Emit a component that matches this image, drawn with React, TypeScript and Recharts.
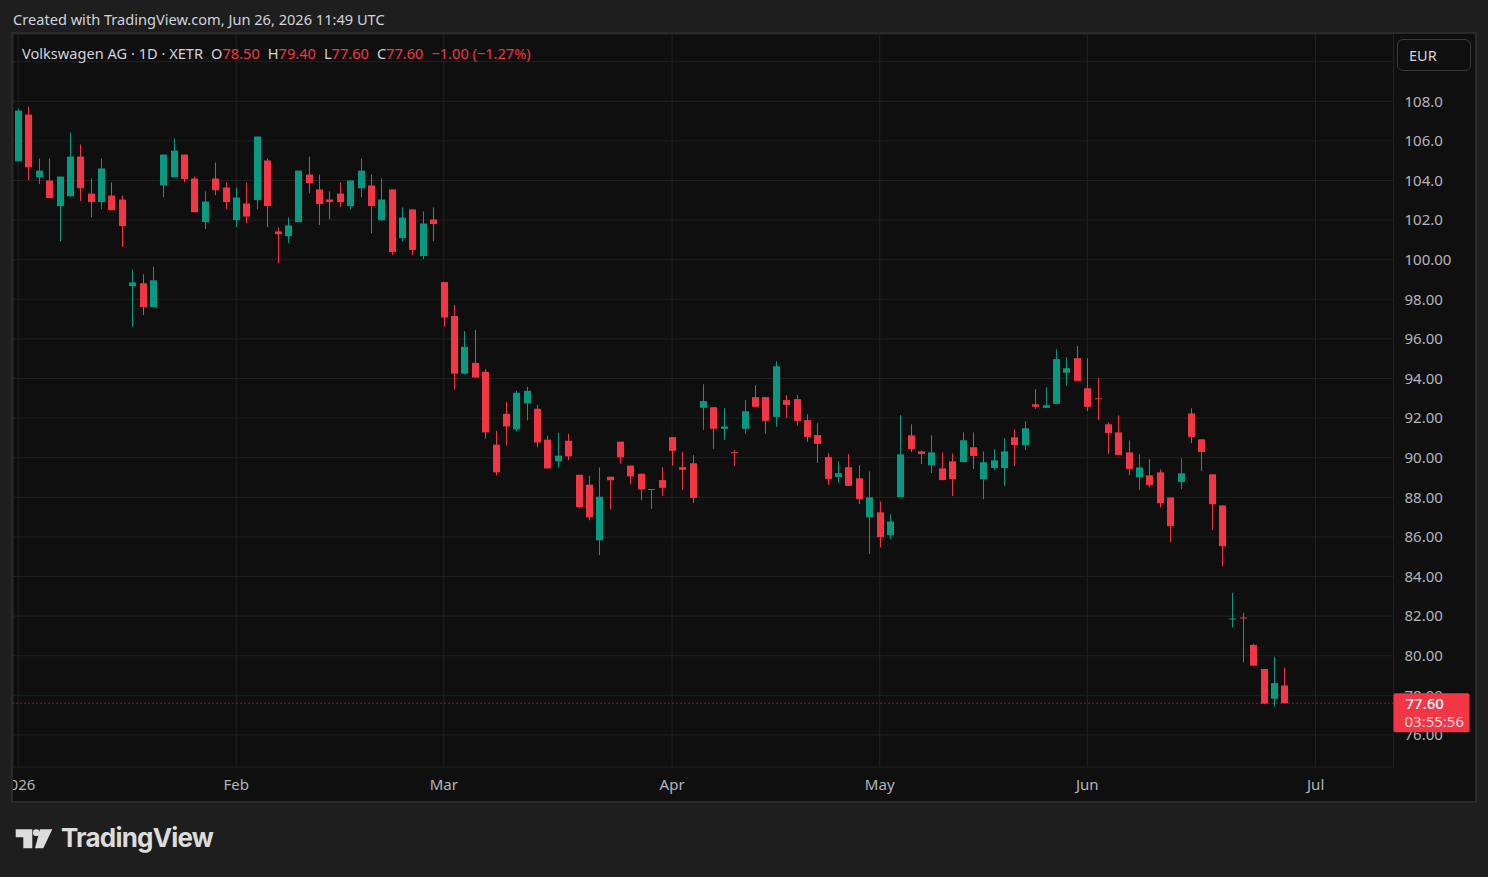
import React from "react";
import {
	Bar,
	CartesianGrid,
	ComposedChart,
	ReferenceLine,
	XAxis,
	YAxis,
} from "recharts";

const UP = "#089981";
const DOWN = "#f23645";
const TEXT = "#d1d4dc";
const AXIS_TEXT = "#b2b5be";
const FONT = "'Noto Sans', Roboto, sans-serif";

// XETR trading days, Jan - Jun 2026
const janDays = [2, 5, 6, 7, 8, 9, 12, 13, 14, 15, 16, 19, 20, 21, 22, 23, 26, 27, 28, 29, 30];
const febDays = [2, 3, 4, 5, 6, 9, 10, 11, 12, 13, 16, 17, 18, 19, 20, 23, 24, 25, 26, 27];
const marDays = [2, 3, 4, 5, 6, 9, 10, 11, 12, 13, 16, 17, 18, 19, 20, 23, 24, 25, 26, 27, 30, 31];
const aprDays = [1, 2, 7, 8, 9, 10, 13, 14, 15, 16, 17, 20, 21, 22, 23, 24, 27, 28, 29, 30];
const mayDays = [4, 5, 6, 7, 8, 11, 12, 13, 14, 15, 18, 19, 20, 21, 22, 25, 26, 27, 28, 29];
const junDays = [1, 2, 3, 4, 5, 8, 9, 10, 11, 12, 15, 16, 17, 18, 19, 22, 23, 24, 25, 26];
// empty slots to the right of the last bar
const futureDates = [
	"2026-06-29", "2026-06-30", "2026-07-01", "2026-07-02", "2026-07-03",
	"2026-07-06", "2026-07-07", "2026-07-08", "2026-07-09", "2026-07-10",
];

const opens = [
	// jan
	104.97, 107.33, 104.17, 104.0, 102.71, 103.21, 105.21, 103.34, 102.91, 103.24, 103.04,
	98.67, 98.81, 97.61, 103.76, 104.17, 105.31, 104.1, 101.9, 104.1, 103.65,
	// feb
	102.0, 102.84, 103.01, 105.01, 101.43, 101.19, 101.9, 104.3, 103.55, 103.04,
	103.34, 102.71, 103.61, 103.75, 102.0, 103.55, 101.09, 102.54, 100.18, 102.03,
	// mar
	98.87, 97.16, 94.25, 94.79, 94.34, 90.66, 92.22, 91.43, 92.74, 92.47, 90.91,
	89.82, 90.86, 89.14, 88.64, 85.83, 89.04, 90.81, 89.6, 89.19, 88.38, 88.87,
	// apr
	91.04, 89.52, 89.72, 92.52, 92.55, 91.46, 90.28, 91.46, 93.06, 93.06,
	92.06, 92.91, 92.96, 91.9, 91.14, 90.03, 89.03, 89.52, 88.96, 87.0,
	// may
	87.24, 86.09, 88.01, 91.13, 90.32, 89.63, 89.46, 89.82, 89.78, 90.53,
	88.92, 89.48, 89.48, 91.03, 90.64, 92.7, 92.52, 92.72, 94.29, 95.03,
	// jun
	93.51, 93.0, 91.69, 91.28, 90.27, 89.02, 89.11, 89.26, 87.99, 88.77,
	92.24, 90.93, 89.16, 87.59, 81.85, 81.93, 80.55, 79.33, 77.83, 78.5,
];
const highs = [
	107.63, 107.73, 105.11, 105.11, 104.2, 106.42, 105.82, 104.1, 105.11, 103.9, 103.24,
	99.51, 99.26, 99.66, 105.31, 106.12, 105.31, 104.2, 103.45, 104.91, 103.9,
	103.65, 103.9, 106.22, 105.11, 101.63, 102.13, 104.5, 105.21, 104.3, 103.45,
	103.9, 104.0, 105.11, 104.3, 104.1, 103.55, 102.64, 102.54, 102.44, 102.64,
	98.87, 97.71, 96.4, 96.45, 94.49, 91.36, 92.82, 93.38, 93.58, 92.67, 91.11,
	91.26, 91.21, 89.14, 89.09, 89.5, 89.04, 90.81, 89.6, 89.19, 88.42, 89.52,
	91.04, 90.28, 90.13, 93.71, 92.55, 92.5, 90.38, 92.91, 93.66, 93.06,
	94.88, 93.16, 93.16, 92.2, 91.74, 90.23, 89.82, 90.18, 89.62, 89.31,
	87.79, 87.14, 92.15, 91.69, 90.37, 91.13, 90.27, 90.22, 91.28, 91.28,
	90.32, 90.42, 90.98, 91.44, 91.84, 93.46, 93.56, 95.48, 95.08, 95.64,
	95.03, 94.02, 91.79, 92.14, 90.88, 90.17, 89.92, 89.41, 87.99, 89.97,
	92.5, 90.93, 89.16, 87.59, 83.18, 82.17, 80.6, 79.33, 79.94, 79.4,
];
const lows = [
	104.97, 104.02, 103.82, 103.11, 100.94, 103.16, 102.96, 102.15, 102.55, 102.5, 100.64,
	96.61, 97.21, 97.61, 103.16, 104.17, 103.92, 102.4, 101.55, 103.26, 102.55,
	101.65, 101.85, 102.55, 101.65, 99.83, 100.84, 101.9, 103.36, 101.75, 102.05,
	102.66, 102.55, 103.16, 101.34, 101.95, 100.24, 100.94, 100.24, 100.03, 100.94,
	96.62, 93.45, 94.2, 94.05, 90.97, 89.11, 90.62, 91.33, 91.88, 90.52, 89.46,
	89.51, 89.87, 87.45, 86.84, 85.08, 87.4, 89.71, 88.66, 87.85, 87.42, 88.07,
	89.59, 88.38, 87.72, 91.41, 90.45, 90.9, 89.59, 91.21, 92.57, 91.21,
	91.56, 92.01, 91.61, 90.8, 89.74, 88.63, 88.73, 88.58, 87.66, 85.13,
	85.48, 85.89, 88.01, 90.29, 89.68, 89.23, 88.87, 88.06, 89.78, 89.43,
	87.91, 89.38, 88.57, 89.58, 90.39, 92.47, 92.52, 92.72, 93.63, 93.88,
	92.36, 91.91, 90.19, 90.14, 89.12, 88.36, 88.51, 87.5, 85.73, 88.41,
	90.74, 89.32, 86.34, 84.51, 81.43, 79.66, 79.5, 77.58, 77.43, 77.6,
];
const closes = [
	107.53, 104.67, 104.5, 103.11, 104.2, 105.21, 103.61, 102.91, 104.61, 102.5, 101.7,
	98.86, 97.61, 98.96, 105.31, 105.51, 104.07, 102.4, 102.94, 103.51, 102.91,
	103.14, 102.18, 106.22, 102.71, 101.29, 101.73, 104.5, 103.87, 102.81, 102.91,
	102.91, 104.0, 104.5, 102.71, 103.04, 100.39, 102.13, 100.49, 101.83, 101.8,
	97.08, 94.25, 95.6, 94.05, 91.28, 89.26, 91.58, 93.28, 93.38, 90.77, 89.46,
	90.1, 90.07, 87.5, 86.99, 88.03, 88.86, 90.02, 89.06, 88.4, 88.42, 88.48,
	90.35, 89.39, 87.97, 92.86, 91.46, 91.58, 90.25, 92.35, 92.57, 91.86,
	94.62, 92.67, 91.86, 91.05, 90.7, 88.93, 89.22, 88.58, 87.91, 88.0,
	85.99, 86.78, 90.17, 90.44, 90.19, 90.27, 88.87, 88.92, 90.88, 90.09,
	89.77, 89.87, 90.32, 90.64, 91.49, 92.57, 92.65, 94.98, 94.52, 93.88,
	92.57, 92.97, 91.25, 90.14, 89.43, 89.51, 88.62, 87.7, 86.54, 89.21,
	91.05, 90.29, 87.65, 85.53, 81.88, 81.9, 79.5, 77.58, 78.62, 77.6,
];

const monthTicks = ["2026-01-02", "2026-02-02", "2026-03-02", "2026-04-01", "2026-05-04", "2026-06-01", "2026-07-01"];
const monthLabels = ["2026", "Feb", "Mar", "Apr", "May", "Jun", "Jul"];

const yTicks = [76, 78, 80, 82, 84, 86, 88, 90, 92, 94, 96, 98, 100, 102, 104, 106, 108, 110];
const yLabels = [
	"76.00", "78.00", "80.00", "82.00", "84.00", "86.00", "88.00", "90.00", "92.00",
	"94.00", "96.00", "98.00", "100.00", "102.0", "104.0", "106.0", "108.0", "",
];

const countdown = "03:55:56";

const pad = (n: number) => String(n).padStart(2, "0");
const tradingDates = [
	...janDays.map((d) => `2026-01-${pad(d)}`),
	...febDays.map((d) => `2026-02-${pad(d)}`),
	...marDays.map((d) => `2026-03-${pad(d)}`),
	...aprDays.map((d) => `2026-04-${pad(d)}`),
	...mayDays.map((d) => `2026-05-${pad(d)}`),
	...junDays.map((d) => `2026-06-${pad(d)}`),
];

const chartData = [
	...tradingDates.map((date, i) => ({
		date,
		open: opens[i],
		high: highs[i],
		low: lows[i],
		close: closes[i],
	})),
	...futureDates.map((date) => ({ date })),
];

const last = chartData[tradingDates.length - 1] as any;

function Candle(props: any) {
	const { x, y, width, height, payload } = props;
	if (!payload || payload.open == null) return null;
	const { open, high, low, close } = payload;
	const top = Math.min(y, y + height);
	const span = Math.abs(height);
	const toY = (v: number) =>
		high === low ? top : top + ((high - v) / (high - low)) * span;
	const color = close >= open ? UP : DOWN;
	const cx = Math.round(x + width / 2);
	const bodyTop = toY(Math.max(open, close));
	const bodyBottom = toY(Math.min(open, close));
	return (
		<g>
			<line
				x1={cx + 0.5}
				x2={cx + 0.5}
				y1={top}
				y2={top + span}
				stroke={color}
				strokeWidth={1}
			/>
			<rect
				x={cx - 3}
				y={bodyTop}
				width={7}
				height={Math.max(bodyBottom - bodyTop, 1)}
				fill={color}
			/>
		</g>
	);
}

function PriceTag({ viewBox }: any) {
	if (!viewBox) return null;
	const left = viewBox.x + viewBox.width;
	return (
		<g>
			<rect x={left} y={viewBox.y - 10} width={76} height={39} fill={DOWN} rx={2} />
			<text x={left + 12} y={viewBox.y + 5.5} fill="#ffffff" fontSize={15} fontWeight={500}>
				{last.close.toFixed(2)}
			</text>
			<text x={left + 11} y={viewBox.y + 23.5} fill="#ffd3d8" fontSize={15}>
				{countdown}
			</text>
		</g>
	);
}

function TvLogo() {
	return (
		<svg width={40} height={24} viewBox="0 0 40 24" style={{ position: "absolute", left: 14, top: 827 }}>
			<path d="M1.7 2.3h16.6v19H9.3V10.3H1.7z" fill="#dcdcdc" />
			<circle cx={22.3} cy={5.7} r={3.4} fill="#dcdcdc" />
			<path d="M26 2.3h12.3l-9 19H21z" fill="#dcdcdc" />
		</svg>
	);
}

const gap = { marginLeft: 8 };

export default function App() {
	return (
		<div
			style={{
				position: "absolute",
				left: 0,
				top: 0,
				width: 1488,
				height: 877,
				background: "#1e1e1e",
				fontFamily: FONT,
				overflow: "hidden",
			}}
		>
			<div style={{ position: "absolute", left: 13, top: 9, fontSize: 14.6, color: TEXT }}>
				Created with TradingView.com, Jun 26, 2026 11:49 UTC
			</div>

			<div
				style={{
					position: "absolute",
					left: 11,
					top: 32,
					width: 1466,
					height: 771,
					boxSizing: "border-box",
					border: "2px solid #2a2a2a",
					background: "#0f0f0f",
				}}
			/>

			<div style={{ position: "absolute", left: 13, top: 34 }}>
				<ComposedChart
					width={1462}
					height={767}
					data={chartData}
					margin={{ top: 0, right: 0, bottom: 0, left: 0 }}
				>
					<CartesianGrid stroke="#222222" />
					<XAxis
						dataKey="date"
						ticks={monthTicks}
						interval={0}
						tickFormatter={(v) => monthLabels[monthTicks.indexOf(v)] ?? ""}
						axisLine={false}
						tickLine={false}
						height={34}
						tickMargin={6}
						tick={{ fill: AXIS_TEXT, fontSize: 15 }}
					/>
					<YAxis
						orientation="right"
						type="number"
						domain={[74.38, 111.4]}
						allowDataOverflow
						ticks={yTicks}
						interval={0}
						tickFormatter={(v) => yLabels[yTicks.indexOf(v)] ?? ""}
						axisLine={false}
						tickLine={false}
						width={81.5}
						tickMargin={5}
						tick={{ fill: AXIS_TEXT, fontSize: 15 }}
					/>
					<Bar
						dataKey={(d: any) => (d.open == null ? null : [d.low, d.high])}
						shape={(p: any) => <Candle {...p} />}
						isAnimationActive={false}
					/>
					<ReferenceLine
						y={last.close}
						stroke={DOWN}
						strokeDasharray="1 3"
						zIndex={2000}
						label={<PriceTag />}
					/>
				</ComposedChart>
			</div>

			<div
				style={{
					position: "absolute",
					left: 1397,
					top: 39,
					width: 74,
					height: 32,
					boxSizing: "border-box",
					border: "1px solid #3a3a3a",
					borderRadius: 6,
					color: TEXT,
					fontSize: 14.5,
					lineHeight: "30px",
					paddingLeft: 11,
				}}
			>
				EUR
			</div>

			<div style={{ position: "absolute", left: 22, top: 43, fontSize: 14.6, color: TEXT, whiteSpace: "pre" }}>
				<span>Volkswagen AG · 1D · XETR</span>
				<span style={gap}>O<span style={{ color: DOWN }}>{last.open.toFixed(2)}</span></span>
				<span style={gap}>H<span style={{ color: DOWN }}>{last.high.toFixed(2)}</span></span>
				<span style={gap}>L<span style={{ color: DOWN }}>{last.low.toFixed(2)}</span></span>
				<span style={gap}>C<span style={{ color: DOWN }}>{last.close.toFixed(2)}</span></span>
				<span style={{ ...gap, color: DOWN }}>−1.00 (−1.27%)</span>
			</div>

			<TvLogo />
			<div
				style={{
					position: "absolute",
					left: 61,
					top: 822,
					fontSize: 26,
					fontWeight: 700,
					color: "#dcdcdc",
					fontFamily: "Inter, sans-serif",
					letterSpacing: -0.8,
				}}
			>
				TradingView
			</div>
		</div>
	);
}
